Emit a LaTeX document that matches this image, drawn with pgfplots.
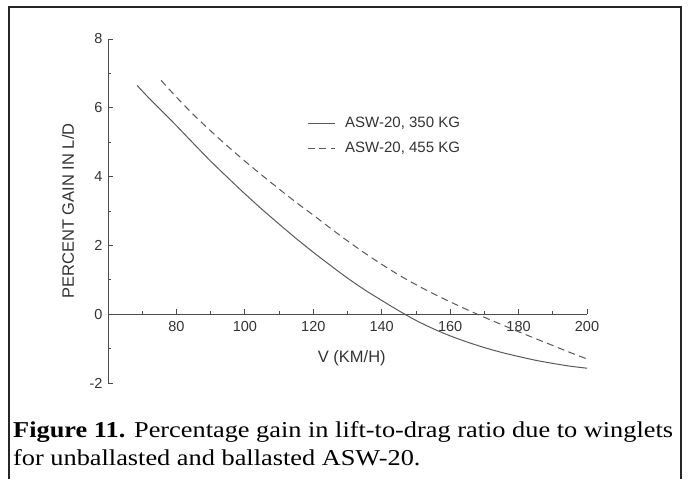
\documentclass[border=0pt]{standalone}
\usepackage{fontspec}
\setmainfont{Liberation Sans}
\newfontfamily\capfont[FakeStretch=1.16]{Liberation Serif}
\usepackage{pgfplots}
\pgfplotsset{compat=1.18}
\pgfplotstableread{
x y
68.5 6.65
72 6.28
76 5.88
80 5.48
85 4.96
90 4.45
95 3.97
100 3.5
105 3.05
110 2.62
115 2.2
120 1.8
125 1.42
130 1.05
135 0.71
140 0.4
145 0.1
150 -0.18
155 -0.42
160 -0.63
165 -0.81
170 -0.97
175 -1.11
180 -1.23
185 -1.34
190 -1.43
195 -1.51
200 -1.57
}\light
\pgfplotstableread{
x y
75.5 6.8
80 6.31
85 5.8
90 5.33
95 4.88
100 4.45
105 4.04
110 3.64
115 3.25
120 2.88
125 2.5
130 2.13
135 1.78
140 1.45
145 1.14
150 0.86
155 0.6
160 0.36
165 0.13
170 -0.09
175 -0.3
180 -0.51
185 -0.71
190 -0.91
195 -1.11
200 -1.3
}\heavy
\begin{document}
\begin{tikzpicture}
\path (0pt,0pt) rectangle (688pt,479pt);
\draw[line width=1.8pt, black!85] (9pt,0pt) -- (9pt,472pt) -- (681pt,472pt) -- (681pt,0pt);
\begin{axis}[
  at={(108pt,96pt)}, anchor=south west,
  scale only axis, width=479pt, height=344pt,
  xmin=60, xmax=200, ymin=-2, ymax=8,
  axis x line=middle, axis y line=left,
  hide obscured x ticks=false, hide obscured y ticks=false,
  axis line style={-, black!70, line width=0.9pt},
  xtick={80,100,...,200}, minor xtick={70,90,...,190},
  ytick={-2,0,...,8}, minor ytick={-1,1,3,5,7},
  tick align=inside,
  major tick length=5pt, minor tick length=3pt,
  tick style={black!70, line width=0.8pt},
  /pgf/number format/assume math mode=true,
  tick label style={font=\fontsize{14.5}{16}\selectfont, text=black!80},
  xticklabel style={yshift=-4pt},
  yticklabel style={xshift=-2pt},
  every axis x label/.style={at={(axis description cs:0.509,0.073)}, anchor=center},
  every axis y label/.style={at={(axis description cs:-0.0835,0.5)}, rotate=90, anchor=center},
  label style={font=\fontsize{16.5}{18}\selectfont, text=black!80},
  xlabel={V (KM/H)},
  ylabel={PERCENT GAIN IN L/D},
  legend image code/.code={\draw[#1] (0pt,0pt) -- (27pt,0pt);},
  legend style={at={(axis description cs:0.4154,0.778)}, anchor=north west,
    draw=none, fill=none, inner sep=0pt, row sep=9pt, column sep=9pt,
    font=\fontsize{15}{17}\selectfont, text=black!80,
    nodes={inner sep=1pt, text height=11pt, text depth=3pt}},
  legend cell align=left,
]
\addplot[black!65, line width=1pt, smooth] table[x=x,y=y] {\light};
\addlegendentry{ASW-20, 350 KG}
\addplot[black!65, line width=1pt, smooth, dash pattern=on 7pt off 4.5pt] table[x=x,y=y] {\heavy};
\addlegendentry{ASW-20, 455 KG}
\end{axis}
\node[anchor=base west, inner sep=0pt, font=\capfont\fontsize{22.7}{29}\selectfont] at (13pt,42pt) {\textbf{Figure 11.} Percentage gain in lift-to-drag ratio due to winglets};
\node[anchor=base west, inner sep=0pt, font=\capfont\fontsize{22.7}{29}\selectfont] at (13pt,13.5pt) {for unballasted and ballasted ASW-20.};
\end{tikzpicture}
\end{document}
